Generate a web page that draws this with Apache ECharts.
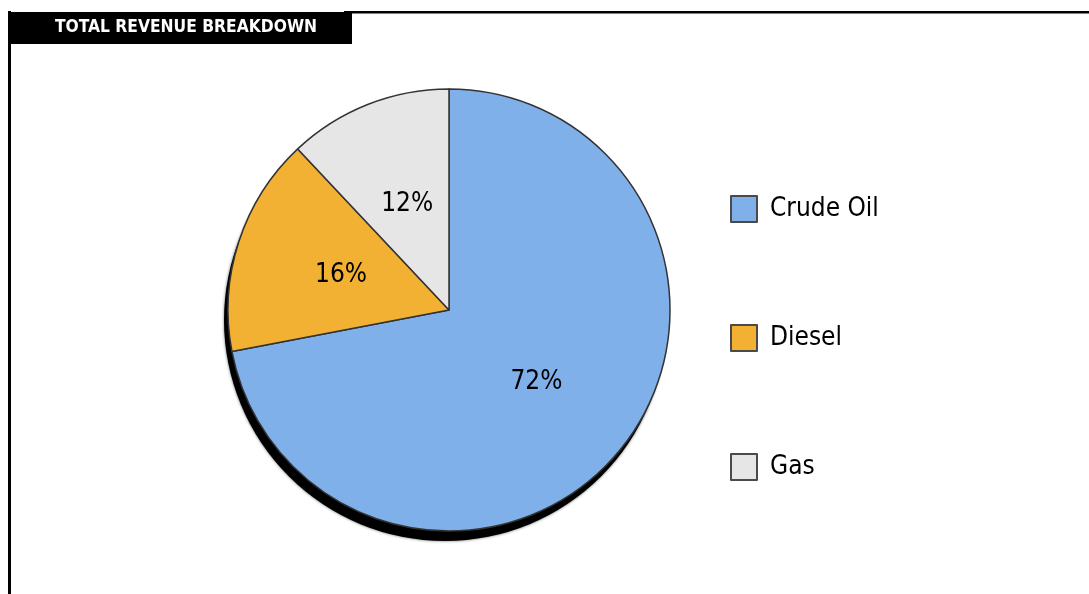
<!DOCTYPE html>
<html>
<head>
<meta charset="utf-8">
<script src="https://cdn.jsdelivr.net/npm/echarts@6/dist/echarts.min.js"></script>
<style>
html,body{margin:0;padding:0;background:#fff;}
#chart{width:1089px;height:594px;}
</style>
</head>
<body>
<div id="chart"></div>
<script>
const title = 'TOTAL REVENUE BREAKDOWN';
const categories = ['Crude Oil', 'Diesel', 'Gas'];
const values = [72, 16, 12];
const colors = ['#7fb0ea', '#f2b132', '#e6e6e6'];

const FONT = '"DejaVu Sans Condensed", "Liberation Sans Narrow", "DejaVu Sans", sans-serif';

const chart = echarts.init(document.getElementById('chart'), null, {renderer: 'canvas'});
const option = {
  backgroundColor: '#ffffff',
  animation: false,
  graphic: [
    {type: 'rect', shape: {x: 8, y: 11, width: 3, height: 590}, style: {fill: '#000'}, z: 10},
    {type: 'rect', shape: {x: 344, y: 11, width: 745, height: 2.5}, style: {fill: '#000'}, z: 10},
    {type: 'rect', shape: {x: 10, y: 12, width: 342, height: 32}, style: {fill: '#000'}, z: 10},
    {type: 'text', x: 186, y: 28, z: 11,
      style: {text: title, fill: '#fff', font: 'bold 17.3px ' + FONT, textAlign: 'center', textVerticalAlign: 'middle'}}
  ],
  legend: {
    orient: 'vertical',
    left: 725,
    top: 190,
    itemWidth: 26,
    itemHeight: 26,
    itemGap: 101,
    icon: 'rect',
    selectedMode: false,
    itemStyle: {borderColor: '#4a4a4a', borderWidth: 2},
    textStyle: {fontFamily: FONT, fontSize: 26, color: '#000', padding: [0, 0, 0, 8]},
    data: categories
  },
  series: [
    {
      type: 'pie',
      silent: true,
      center: [445, 320],
      radius: 221,
      z: 1,
      label: {show: false},
      labelLine: {show: false},
      itemStyle: {color: '#000', shadowColor: 'rgba(0,0,0,0.6)', shadowBlur: 3},
      data: [{value: 1, name: '_shadow'}],
      legendHoverLink: false
    },
    {
      type: 'pie',
      center: [449, 310],
      radius: 221,
      startAngle: 90,
      clockwise: true,
      z: 2,
      label: {
        show: true,
        position: 'inside',
        formatter: '{d}%',
        fontFamily: FONT,
        fontSize: 26,
        color: '#000'
      },
      labelLine: {show: false},
      itemStyle: {borderColor: '#333', borderWidth: 1.5},
      data: categories.map((c, i) => ({name: c, value: values[i], itemStyle: {color: colors[i]}}))
    }
  ]
};
chart.setOption(option);
</script>
</body>
</html>
